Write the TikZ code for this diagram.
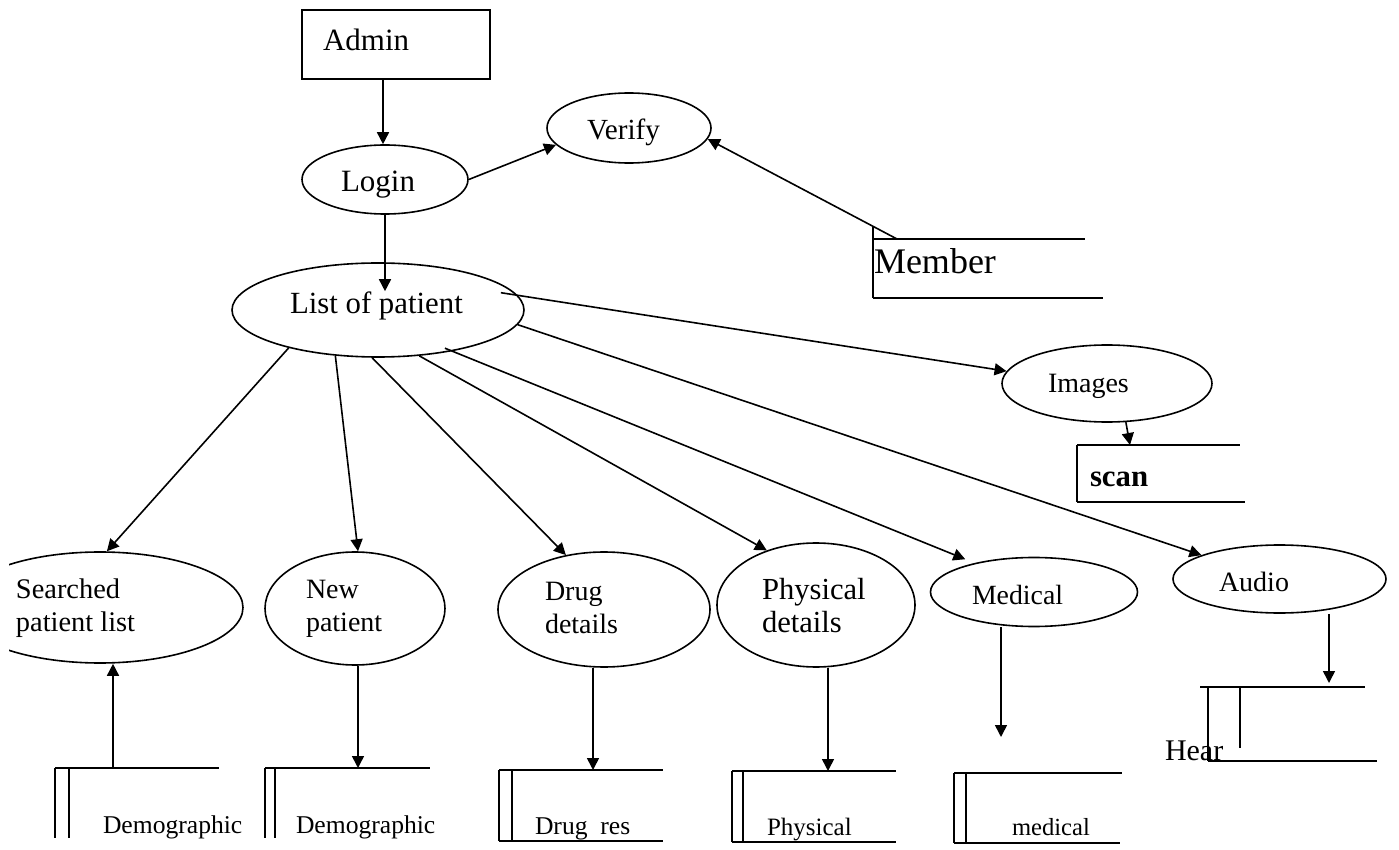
\documentclass[tikz,border=0pt]{standalone}
\usepackage{fontspec}
\setmainfont{Liberation Serif}
\usetikzlibrary{shapes.geometric,arrows.meta}
\newcommand{\fsz}[1]{\fontsize{#1pt}{16.5pt}\selectfont}
\tikzset{
  ln/.style={line width=0.8pt},
  proc/.style={ellipse, draw, line width=0.8pt, inner sep=0pt},
  extent/.style={rectangle, draw, line width=0.8pt, inner sep=0pt},
  arr/.style={line width=0.8pt, -{Triangle[length=6pt,width=6pt]}},
  txt/.style={anchor=base west, inner sep=0pt, outer sep=0pt, align=left},
}
\begin{document}
\begin{tikzpicture}[x=0.5pt,y=-0.5pt]
\useasboundingbox (0,0) rectangle (1399,850);

% external entity
\node[extent, minimum width=94pt, minimum height=34.5pt] (admin) at (396,44.5) {};
\node[txt, font=\fsz{15.5}] (admint) at (323,51) {Admin};

% processes
\node[proc, minimum width=83pt, minimum height=34.5pt] (login) at (385,179.5) {};
\node[txt, font=\fsz{15.5}] (logint) at (341,192) {Login};

\node[proc, minimum width=82pt, minimum height=35pt] (verify) at (629,128) {};
\node[txt, font=\fsz{14.6}] (verifyt) at (587,140) {Verify};

\node[proc, minimum width=146pt, minimum height=47pt] (list) at (378,310) {};
\node[txt, font=\fsz{15.4}] (listt) at (290,314) {List of patient};

\node[proc, minimum width=105pt, minimum height=38.5pt] (images) at (1107,383.5) {};
\node[txt, font=\fsz{14}] (imagest) at (1048,393) {Images};

\begin{scope}
  \clip (9,0) rectangle (1399,850);
  \node[proc, minimum width=143pt, minimum height=55.5pt] (searched) at (100,607.5) {};
\end{scope}
\node[txt, font=\fsz{14.2}] (searchedt) at (16,631) {Searched\\patient list};

\node[proc, minimum width=90pt, minimum height=56.5pt] (newp) at (355,608.5) {};
\node[txt, font=\fsz{14}] (newpt) at (306,631) {New\\patient};

\node[proc, minimum width=106pt, minimum height=57.5pt] (drug) at (604,609.5) {};
\node[txt, font=\fsz{14}] (drugt) at (545,633) {Drug\\details};

\node[proc, minimum width=99pt, minimum height=62pt] (phys) at (816,605) {};
\node[txt, font=\fsz{15.3}] (physt) at (762,632) {Physical\\details};

\node[proc, minimum width=103.5pt, minimum height=34.5pt] (medical) at (1034,592) {};
\node[txt, font=\fsz{13.9}] (medicalt) at (972,604) {Medical};

\node[proc, minimum width=106.5pt, minimum height=34pt] (audio) at (1279.5,579) {};
\node[txt, font=\fsz{14}] (audiot) at (1219,591) {Audio};

% data stores
% Member
\draw[ln] (873,226) -- (873,298);
\draw[ln] (873,239) -- (1085,239);
\draw[ln] (873,298) -- (1103,298);
\node[txt, font=\fsz{18}] (membert) at (874,274) {Member};
\coordinate (memtop) at (897,239);

% scan
\draw[ln] (1077,445) -- (1077,502);
\draw[ln] (1077,445) -- (1240,445);
\draw[ln] (1077,502) -- (1245,502);
\node[txt, font=\fsz{15.4}\bfseries] (scant) at (1090,487) {scan};
\coordinate (scantop) at (1130,445);

% Demographic 1
\draw[ln] (55,768) -- (55,838);
\draw[ln] (69,768) -- (69,838);
\draw[ln] (55,768) -- (219,768);
\node[txt, font=\fsz{12.8}] (demo1t) at (103,833) {Demographic};
\coordinate (s1top) at (113,768);

% Demographic 2
\draw[ln] (265,768) -- (265,838);
\draw[ln] (275,768) -- (275,838);
\draw[ln] (265,768) -- (430,768);
\node[txt, font=\fsz{12.8}] (demo2t) at (296,833) {Demographic};
\coordinate (s2top) at (358,768);

% Drug res
\draw[ln] (499,770) -- (499,841);
\draw[ln] (512,770) -- (512,841);
\draw[ln] (499,770) -- (663,770);
\draw[ln] (499,841) -- (663,841);
\node[txt, font=\fsz{12.8}] (drugst) at (535,834) {Drug\ \ res};
\coordinate (s3top) at (593,770);

% Physical
\draw[ln] (732,771) -- (732,842);
\draw[ln] (743,771) -- (743,842);
\draw[ln] (732,771) -- (896,771);
\draw[ln] (732,842) -- (896,842);
\node[txt, font=\fsz{12.5}] (physst) at (767,835) {Physical};
\coordinate (s4top) at (828,771);

% medical
\draw[ln] (954,773) -- (954,843);
\draw[ln] (966,773) -- (966,843);
\draw[ln] (954,773) -- (1122,773);
\draw[ln] (954,843) -- (1120,843);
\node[txt, font=\fsz{12.3}] (medst) at (1012,835) {medical};
\coordinate (medend) at (1001,737);

% Hear
\draw[ln] (1200,687) -- (1365,687);
\draw[ln] (1208,687) -- (1208,761);
\draw[ln] (1240,687) -- (1240,748);
\draw[ln] (1208,761) -- (1377,761);
\node[txt, font=\fsz{15}] (heart) at (1165,760) {Hear};
\coordinate (audend) at (1329,683);

% connectors
\draw[arr] (admin.south -| login.north) ++(-2,0) coordinate (adminout) -- (adminout |- login.north);
\draw[arr] (login.east) -- (verify.-167);
\draw[arr] (memtop) -- (verify.-8.6);
\draw[arr, shorten >=-14.5pt] (login.south) -- (login.south |- list.north);

\draw[arr] (list.-157.3) -- (searched.83);
\draw[arr] (list.-133.1) -- (newp.87);
\draw[arr] (list.-97.1) -- (drug.125);
\draw[arr] (list.-48.2) -- (phys.132.8);
\draw[arr, shorten <=-4pt, shorten >=5pt] (list.-29.6) -- (medical.154);
\draw[arr] (list.-6.8) -- (audio.163.7);
\draw[arr, shorten <=-8.5pt] (list.6.1) -- (images.173.2);

\draw[arr] (images.-64.7) -- (scantop);
\draw[arr] (s1top) -- (s1top |- searched.south);
\draw[arr] (s2top |- newp.south) -- (s2top);
\draw[arr] (s3top |- drug.south) -- (s3top);
\draw[arr] (s4top |- phys.south) -- (s4top);
\draw[arr] (medend |- medical.south) -- (medend);
\draw[arr] (audend |- audio.south) -- (audend);
\end{tikzpicture}
\end{document}
